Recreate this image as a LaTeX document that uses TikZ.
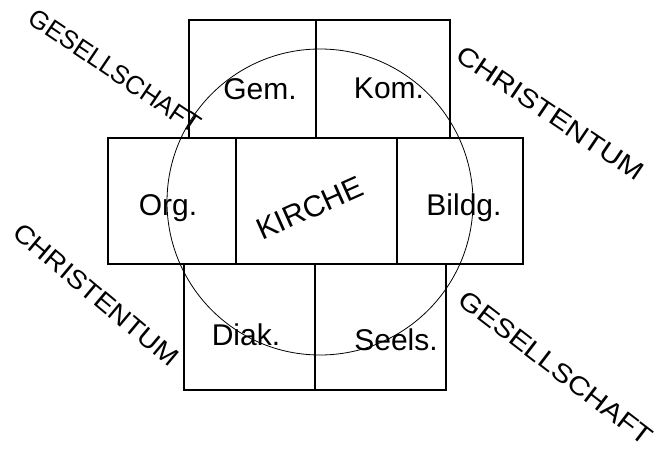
\documentclass[tikz,border=0pt]{standalone}
\usepackage{fontspec}
\setmainfont{Liberation Sans}
\begin{document}
\begin{tikzpicture}[x=1pt,y=-1pt,
  box/.style={draw=black,line width=1.1pt},
  ring/.style={draw=black,line width=0.8pt},
  lbl/.style={inner sep=0pt,font=\fontsize{30}{30}\selectfont},
  bigword/.style={inner sep=0pt,font=\fontsize{26}{26}\selectfont}]
\useasboundingbox (0,0) rectangle (659,449);
% top row
\draw[box] (189,20) rectangle (316,138);
\draw[box] (316,20) rectangle (450,138);
% middle row
\draw[box] (108,138) rectangle (236,264);
\draw[box] (236,138) rectangle (397,264);
\draw[box] (397,138) rectangle (523,264);
% bottom row
\draw[box] (184,264) rectangle (315,390);
\draw[box] (315,264) rectangle (446,390);
% circle
\draw[ring] (320,202) circle[radius=153];
% labels
\node[lbl] (gem) at (260,89) {Gem.};
\node[lbl] (kom) at (389,88) {Kom.};
\node[lbl] (org) at (168,208) {Org.};
\node[lbl] (bildg) at (464,208) {Bildg.};
\node[lbl] (diak) at (246,335) {Diak.};
\node[lbl] (seels) at (396,340) {Seels.};
\node[lbl,rotate=24] (kirche) at (310,208) {KIRCHE};
\node[bigword,rotate=-34,xscale=0.98] (ges1) at (115,71) {GESELLSCHAFT};
\node[bigword,rotate=-34,xscale=1.16] (chr1) at (550,113) {CHRISTENTUM};
\node[bigword,rotate=-40,xscale=1.09] (chr2) at (96,295) {CHRISTENTUM};
\node[bigword,rotate=-37.5,xscale=1.15] (ges2) at (556,368) {GESELLSCHAFT};
\end{tikzpicture}
\end{document}
